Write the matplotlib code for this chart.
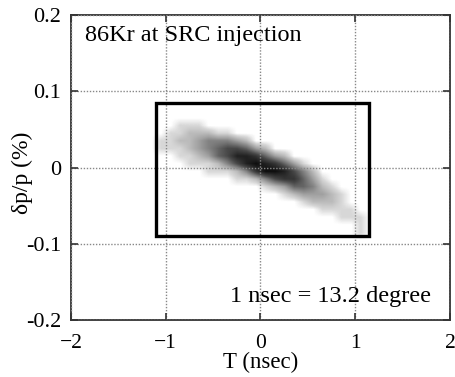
import numpy as np
import matplotlib
matplotlib.use("Agg")
import matplotlib.pyplot as plt
from matplotlib.colors import LinearSegmentedColormap
from matplotlib.patches import Rectangle

plt.rcParams['font.family'] = ['Liberation Serif', 'DejaVu Serif']

# Axis settings
x_ticks = [-2, -1, 0, 1, 2]
y_ticks = [-0.2, -0.1, 0, 0.1, 0.2]
y_tick_labels = ['-0.2', '-0.1', '0', '0.1', '0.2']

# Acceptance box (T in nsec, dp/p in %)
box_T = [-1.1, 1.15]
box_dp = [-0.09, 0.085]

# Density of the particle cloud (0 = empty, 9 = densest)
# columns: T bin centres -1.15 ... 1.15 (0.1 nsec bins)
# rows: dp/p bin centres 0.065 (top) ... -0.095 (bottom) (0.01 % bins)
T_range = [-1.2, 1.2]
dp_range = [-0.1, 0.07]
density = [
    # c0 c1 c2 c3 c4 c5 c6 c7 c8 c9 10 11 12 13 14 15 16 17 18 19 20 21 22 23
    [0, 0, 0, 0, 0, 0, 0, 0, 0, 0, 0, 0, 0, 0, 0, 0, 0, 0, 0, 0, 0, 0, 0, 0],  # 0.065
    [0, 0, 0, 1, 1, 1, 0, 0, 0, 0, 0, 0, 0, 0, 0, 0, 0, 0, 0, 0, 0, 0, 0, 0],  # 0.055
    [0, 0, 1, 1, 2, 2, 2, 1, 1, 0, 0, 0, 0, 0, 0, 0, 0, 0, 0, 0, 0, 0, 0, 0],  # 0.045
    [0, 1, 1, 2, 2, 3, 4, 4, 4, 3, 2, 0, 0, 0, 0, 0, 0, 0, 0, 0, 0, 0, 0, 0],  # 0.035
    [0, 1, 1, 1, 2, 3, 4, 5, 6, 6, 5, 3, 2, 0, 0, 0, 0, 0, 0, 0, 0, 0, 0, 0],  # 0.025
    [0, 0, 0, 1, 1, 2, 3, 5, 6, 8, 8, 7, 5, 3, 2, 0, 0, 0, 0, 0, 0, 0, 0, 0],  # 0.015
    [0, 0, 0, 0, 1, 1, 1, 2, 4, 6, 8, 9, 8, 7, 5, 3, 1, 0, 0, 0, 0, 0, 0, 0],  # 0.005
    [0, 0, 0, 0, 0, 0, 1, 1, 1, 2, 4, 7, 9, 9, 8, 6, 4, 2, 0, 0, 0, 0, 0, 0],  # -0.005
    [0, 0, 0, 0, 0, 0, 0, 0, 0, 1, 1, 2, 4, 6, 7, 7, 5, 3, 1, 0, 0, 0, 0, 0],  # -0.015
    [0, 0, 0, 0, 0, 0, 0, 0, 0, 0, 0, 0, 1, 2, 3, 5, 5, 4, 2, 1, 0, 0, 0, 0],  # -0.025
    [0, 0, 0, 0, 0, 0, 0, 0, 0, 0, 0, 0, 0, 0, 1, 2, 3, 3, 3, 2, 1, 0, 0, 0],  # -0.035
    [0, 0, 0, 0, 0, 0, 0, 0, 0, 0, 0, 0, 0, 0, 0, 0, 1, 2, 2, 2, 1, 0, 0, 0],  # -0.045
    [0, 0, 0, 0, 0, 0, 0, 0, 0, 0, 0, 0, 0, 0, 0, 0, 0, 0, 1, 1, 1, 1, 0, 0],  # -0.055
    [0, 0, 0, 0, 0, 0, 0, 0, 0, 0, 0, 0, 0, 0, 0, 0, 0, 0, 0, 0, 1, 1, 1, 0],  # -0.065
    [0, 0, 0, 0, 0, 0, 0, 0, 0, 0, 0, 0, 0, 0, 0, 0, 0, 0, 0, 0, 0, 0, 1, 0],  # -0.075
    [0, 0, 0, 0, 0, 0, 0, 0, 0, 0, 0, 0, 0, 0, 0, 0, 0, 0, 0, 0, 0, 0, 1, 0],  # -0.085
    [0, 0, 0, 0, 0, 0, 0, 0, 0, 0, 0, 0, 0, 0, 0, 0, 0, 0, 0, 0, 0, 0, 0, 0],  # -0.095
]

title_text = '86Kr at SRC injection'
note_text = '1 nsec = 13.2 degree'

fig = plt.figure(figsize=(4.55, 3.77), dpi=100)
ax = fig.add_axes([0.156, 0.151, 0.833, 0.809])

cmap = LinearSegmentedColormap.from_list(
    'cloud', [(0.0, (0, 0, 0, 0)), (1 / 9, (0, 0, 0, 0.16)), (3 / 9, (0, 0, 0, 0.38)),
              (6 / 9, (0, 0, 0, 0.72)), (1.0, (0, 0, 0, 0.95))])
ax.imshow(np.array(density, dtype=float), cmap=cmap, vmin=0, vmax=9,
          extent=[T_range[0], T_range[1], dp_range[0], dp_range[1]],
          origin='upper', aspect='auto', interpolation='bilinear', zorder=1)

ax.add_patch(Rectangle((box_T[0], box_dp[0]), box_T[1] - box_T[0], box_dp[1] - box_dp[0],
                       fill=False, edgecolor='black', linewidth=2.4, zorder=3))

ax.set_xlim(-2, 2)
ax.set_ylim(-0.2, 0.2)
ax.set_xticks(x_ticks)
ax.set_yticks(y_ticks)
ax.set_yticklabels(y_tick_labels)
ax.grid(True, color='#888888', linestyle=(0, (1, 1.2)), linewidth=1.0, zorder=2)
ax.set_axisbelow(False)
ax.tick_params(direction='in', length=5, width=1.2, labelsize=16, top=True, right=True,
               colors='#333333', labelcolor='black')
ax.tick_params(axis='x', labelsize=15.5, pad=10)
ax.tick_params(axis='y', pad=7)
for s in ax.spines.values():
    s.set_linewidth(1.3)
    s.set_color('#333333')

ax.set_xlabel('T (nsec)', fontsize=16.5, labelpad=-1)
ax.set_ylabel('δp/p (%)', fontsize=17)
ax.yaxis.set_label_coords(-0.10, 0.482)

ax.text(-1.857, 0.166, title_text, fontsize=17.5, ha='left', va='baseline', zorder=4)
ax.text(1.80, -0.1764, note_text, fontsize=17.5, ha='right', va='baseline', zorder=4)

fig.savefig('out.png', dpi=100)
